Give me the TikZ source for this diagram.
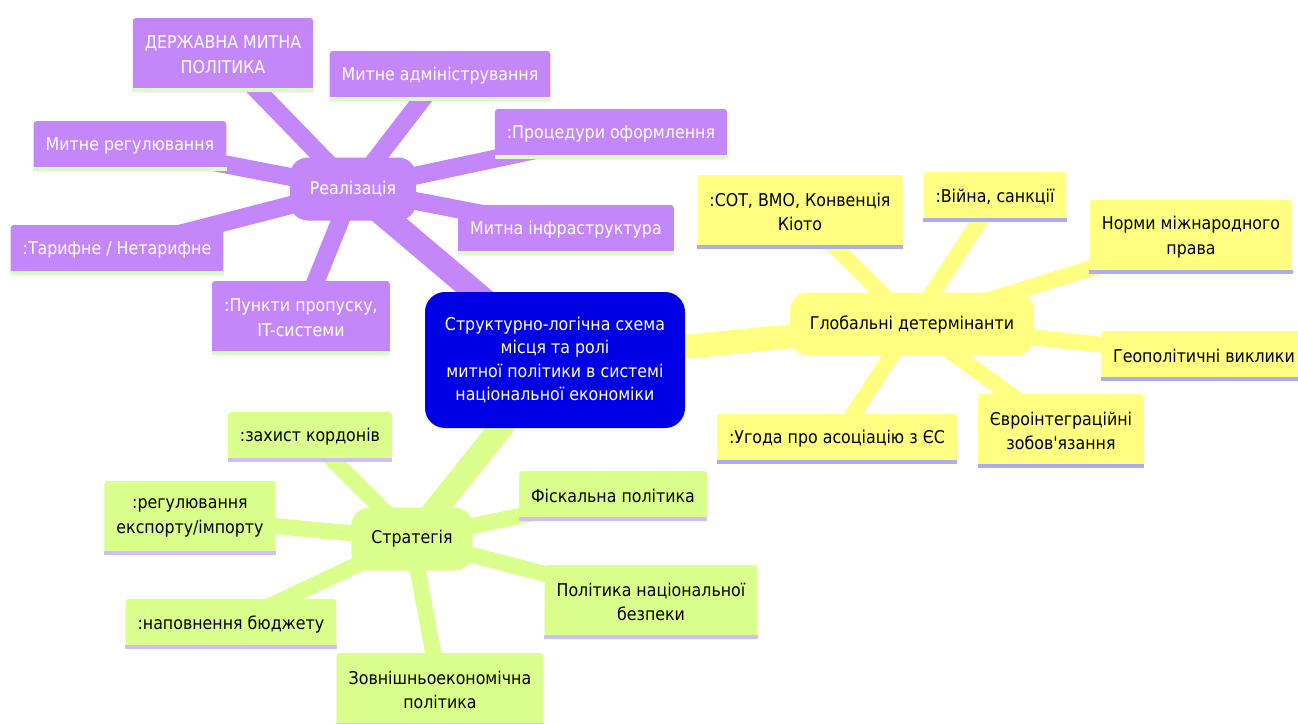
\documentclass[tikz,border=0pt]{standalone}
\usepackage{fontspec}
\setmainfont{DejaVu Sans Condensed}
\usetikzlibrary{backgrounds}

\definecolor{realfill}{RGB}{195,135,250}
\definecolor{realedge}{RGB}{218,250,200}
\definecolor{globfill}{RGB}{255,255,130}
\definecolor{globedge}{RGB}{172,172,242}
\definecolor{stratfill}{RGB}{218,255,140}
\definecolor{stratedge}{RGB}{208,190,250}
\definecolor{centrefill}{RGB}{0,0,228}

\tikzset{
  box/.style={shape=rectangle,rounded corners=1.5pt,inner xsep=6pt,inner ysep=8pt,
    minimum height=25pt,align=center,font=\fontsize{8.8}{12.4}\selectfont},
  twoline/.style={minimum height=37pt},
  hub/.style={box,rounded corners=9pt,inner xsep=10pt,minimum height=31.5pt},
  realbox/.style={box,fill=realfill,text=white},
  globbox/.style={box,fill=globfill,text=black},
  stratbox/.style={box,fill=stratfill,text=black},
}

\begin{document}
\begin{tikzpicture}[x=0.5pt,y=-0.5pt]
  \useasboundingbox (0,0) rectangle (1298,724);

  \node[box,fill=centrefill,text=white,rounded corners=10pt,minimum width=130pt,minimum height=68pt,
    font=\fontsize{8.8}{11.6}\selectfont] (C) at (555,360)
    {Структурно-логічна схема\\місця та ролі\\митної політики в системі\\національної економіки};

  % realizatsiia
  \node[realbox,hub] (R) at (353,189) {Реалізація};
  \node[realbox,twoline] (R1) at (223,55) {ДЕРЖАВНА МИТНА\\ПОЛІТИКА};
  \node[realbox] (R2) at (440,76) {Митне адміністрування};
  \node[realbox] (R3) at (611,134) {:Процедури оформлення};
  \node[realbox] (R4) at (130,146) {Митне регулювання};
  \node[realbox] (R5) at (566,230) {Митна інфраструктура};
  \node[realbox] (R6) at (117,250) {:Тарифне / Нетарифне};
  \node[realbox,twoline] (R7) at (301,318) {:Пункти пропуску,\\IT-системи};

  % global
  \node[globbox,hub] (G) at (912,324) {Глобальні детермінанти};
  \node[globbox,twoline] (G1) at (800,212) {:СОТ, ВМО, Конвенція\\Кіото};
  \node[globbox] (G2) at (995,197) {:Війна, санкції};
  \node[globbox,twoline] (G3) at (1191,237) {Норми міжнародного\\права};
  \node[globbox] (G4) at (1204,356) {Геополітичні виклики};
  \node[globbox] (G5) at (837,439) {:Угода про асоціацію з ЄС};
  \node[globbox,twoline] (G6) at (1061,431) {Євроінтеграційні\\зобов\textquotesingle язання};

  % strategy
  \node[stratbox,hub] (S) at (412,539) {Стратегія};
  \node[stratbox] (S1) at (310,437) {:захист кордонів};
  \node[stratbox,twoline] (S2) at (190,518) {:регулювання\\експорту/імпорту};
  \node[stratbox] (S3) at (613,496) {Фіскальна політика};
  \node[stratbox,twoline] (S4) at (651,602) {Політика національної\\безпеки};
  \node[stratbox] (S5) at (231,624) {:наповнення бюджету};
  \node[stratbox,twoline] (S6) at (440,690) {Зовнішньоекономічна\\політика};

  \begin{scope}[on background layer]
    \draw[realfill,line width=12pt] (R.center) -- (C.center);
    \draw[globfill,line width=12pt] (G.center) -- (C.center);
    \draw[stratfill,line width=12pt] (S.center) -- (C.center);
    \foreach \n in {R1,R2,R3,R4,R5,R6,R7} \draw[realfill,line width=9pt] (R.center) -- (\n.center);
    \foreach \n in {G1,G2,G3,G4,G5,G6} \draw[globfill,line width=8pt] (G.center) -- (\n.center);
    \foreach \n in {S1,S2,S3,S4,S5,S6} \draw[stratfill,line width=8pt] (S.center) -- (\n.center);
  \end{scope}

  \foreach \n in {R1,R2,R3,R4,R5,R6,R7} \draw[realedge,line width=2pt] ([yshift=1pt]\n.south west) -- ([yshift=1pt]\n.south east);
  \foreach \n in {G1,G2,G3,G4,G5,G6} \draw[globedge,line width=2pt] ([yshift=1pt]\n.south west) -- ([yshift=1pt]\n.south east);
  \foreach \n in {S1,S2,S3,S4,S5,S6} \draw[stratedge,line width=2pt] ([yshift=1pt]\n.south west) -- ([yshift=1pt]\n.south east);
\end{tikzpicture}
\end{document}
